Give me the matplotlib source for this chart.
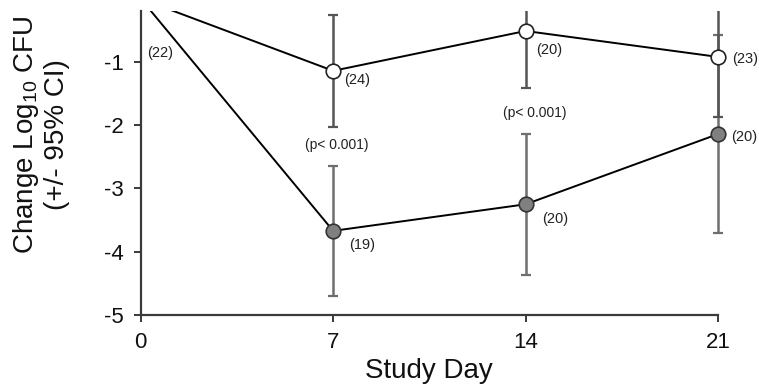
import matplotlib
matplotlib.use("Agg")
import matplotlib.pyplot as plt
from matplotlib.patches import Rectangle

plt.rcParams['font.family'] = ['Liberation Sans', 'DejaVu Sans']
plt.rcParams['mathtext.fontset'] = 'custom'
plt.rcParams['mathtext.rm'] = 'Liberation Sans'
plt.rcParams['mathtext.it'] = 'Liberation Sans:italic'

# Study days and mean change in log10 CFU with 95% CI half-widths
days = [0, 7, 14, 21]
control_mean = [0.0, -1.14, -0.51, -0.92]
control_ci = [0.0, 0.89, 0.90, 0.95]
treated_mean = [0.0, -3.67, -3.25, -2.14]
treated_ci = [0.0, 1.03, 1.11, 1.57]

# Sample size labels: (day, value, text)
n_labels = [
    (0.72, -0.86, "(22)"),
    (7.89, -1.28, "(24)"),
    (14.85, -0.81, "(20)"),
    (21.97, -0.96, "(23)"),
    (8.06, -3.90, "(19)"),
    (15.09, -3.49, "(20)"),
    (21.97, -2.19, "(20)"),
]
p_labels = [
    (7.13, -2.31, "(p< 0.001)"),
    (14.34, -1.81, "(p< 0.001)"),
]

x_ticks = [0, 7, 14, 21]
y_ticks = [-5, -4, -3, -2, -1]

fig = plt.figure(figsize=(7.59, 3.91), dpi=100)
ax = fig.add_axes([0.1854, 0.1944, 0.946 - 0.1854, 0.9719 - 0.1944])

# clip only at the top/bottom, let marks at the last day overhang the right edge
clip_rect = Rectangle((-0.05, 0), 1.1, 1, transform=ax.transAxes,
                      facecolor='none', edgecolor='none')


def clip_tall(container):
    for art in container.get_children() if hasattr(container, 'get_children') else container:
        art.set_clip_path(clip_rect)


eb1 = ax.errorbar(days[1:], treated_mean[1:], yerr=treated_ci[1:], fmt='none',
                  ecolor='#6e6e6e', elinewidth=1.8, capsize=3.5, capthick=1.6, zorder=2)
eb2 = ax.errorbar(days[1:], control_mean[1:], yerr=control_ci[1:], fmt='none',
                  ecolor='#555555', elinewidth=1.8, capsize=3.5, capthick=1.6, zorder=2)
for eb in (eb1, eb2):
    for art in eb.get_children():
        art.set_clip_path(clip_rect)

# series lines and markers
ax.plot(days, control_mean, color='black', lw=1.4, zorder=3)
ax.plot(days[1:], control_mean[1:], ls='none', marker='o', ms=10.5,
        mfc='white', mec='#222222', mew=1.2, zorder=4, clip_on=False)
ax.plot(days, treated_mean, color='black', lw=1.4, zorder=3)
ax.plot(days[1:], treated_mean[1:], ls='none', marker='o', ms=10.5,
        mfc='#808080', mec='#333333', mew=1.2, zorder=4, clip_on=False)

for x, y, t in n_labels:
    ax.text(x, y, t, fontsize=10.5, ha='center', va='center', color='#222222',
            clip_on=False)
for x, y, t in p_labels:
    ax.text(x, y, t, fontsize=10, ha='center', va='center', color='#222222',
            clip_on=False)

ax.set_xlim(0, 21)
ax.set_ylim(-5, -0.194)
ax.set_xticks(x_ticks)
ax.set_yticks(y_ticks)
ax.set_xticklabels([str(v) for v in x_ticks])
ax.set_yticklabels([str(v) for v in y_ticks])

for s in ['top', 'right']:
    ax.spines[s].set_visible(False)
for s in ['left', 'bottom']:
    ax.spines[s].set_color('#3a3a3a')
    ax.spines[s].set_linewidth(1.6)

ax.tick_params(axis='both', direction='out', length=5, width=1.4,
               color='#3a3a3a', labelsize=16, labelcolor='#111111')
ax.tick_params(axis='y', pad=7)
ax.tick_params(axis='x', pad=7)

ax.set_xlabel("Study Day", fontsize=20, color='#111111', labelpad=4)
fig.text(0.0540, 0.6547, "Change Log$_{10}$ CFU\n(+/- 95% CI)", rotation=90,
         fontsize=20, ha='center', va='center', multialignment='center',
         color='#111111', linespacing=1.15)

fig.savefig("out.png", dpi=100)
